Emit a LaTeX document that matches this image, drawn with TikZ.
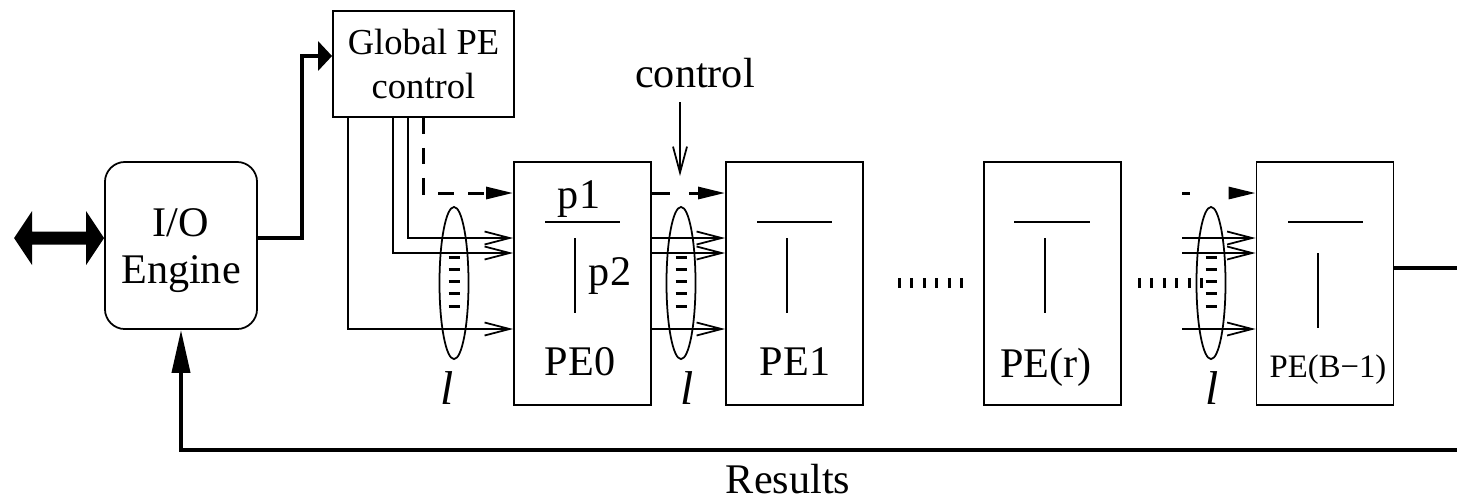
\documentclass[tikz,border=0pt]{standalone}
\usepackage{fontspec}
\setmainfont{Liberation Serif}
\usetikzlibrary{arrows.meta,shapes.geometric}
\begin{document}
\begin{tikzpicture}[x=0.01cm,y=-0.01cm,
  thinln/.style={line width=0.5pt},
  thickln/.style={line width=1.1pt},
  box/.style={draw, line width=0.5pt, inner sep=0pt, minimum width=1.37cm, minimum height=2.43cm},
  barb/.style={thinln, -{Straight Barb[length=0.25cm,width=0.13cm]}},
  darr/.style={line width=0.85pt, -{Triangle[length=0.27cm,width=0.12cm]}},
  txt/.style={font=\fontsize{12}{13.4}\selectfont, inner sep=0pt},
  ell/.style={draw, ellipse, line width=0.5pt, minimum width=0.29cm, minimum height=1.52cm, inner sep=0pt},
  ltxt/.style={font=\fontsize{13.5}{14}\selectfont\itshape, inner sep=0pt},
  tick/.style={line width=0.1cm, dash pattern=on 0.03cm off 0.094cm},
  emark/.style={line width=0.03cm},
]
\useasboundingbox (0,0) rectangle (1457,499);

% helper coordinates
\coordinate (h56) at (0,56);
\coordinate (h193) at (0,193);
\coordinate (h238) at (0,238);
\coordinate (h253) at (0,253);
\coordinate (h268) at (0,268);
\coordinate (h329) at (0,329);
\coordinate (h450) at (0,450);
\coordinate (v302) at (302,0);
\coordinate (v348) at (348,0);
\coordinate (v393) at (393,0);
\coordinate (v408) at (408,0);
\coordinate (vs) at (1182,0);
\coordinate (re) at (1462,0);
\coordinate (ctop) at (680,102);
\coordinate (cbot) at (680,176);

% main blocks
\node[draw, rounded corners=0.2cm, line width=0.5pt, minimum width=1.52cm, minimum height=1.67cm] (io) at (181,245.5) {};
\node[txt, align=center] (iotxt) at (181,251) {I/O\\Engine};
\node[draw, line width=0.5pt, minimum width=1.81cm, minimum height=1.06cm, inner sep=0pt, align=center, font=\fontsize{10.4}{12.3}\selectfont] (glob) at (423.5,64) {Global PE\\control};
\node[box] (pe0) at (582.5,283.5) {};
\node[box] (pe1) at (794.5,283.5) {};
\node[box] (per) at (1052.5,283.5) {};
\node[box] (peb) at (1325,283.5) {};

% labels inside PEs
\node[txt, anchor=base] (lpe0) at (580,375) {PE0};
\node[txt, anchor=base] (lpe1) at (795,375) {PE1};
\node[txt, anchor=base] (lper) at (1046,377) {PE(r)};
\node[anchor=base, inner sep=0pt, font=\fontsize{9.3}{11}\selectfont] (lpeb) at (1328,377) {PE(B−1)};
\node[txt, anchor=base] (p1) at (579,208) {p1};
\node[txt, anchor=base] (p2) at (610,285) {p2};

% inner partition lines
\draw[thinln] (545,222) -- (620,222) (575,238) -- (575,313);
\draw[thinln] (757,222) -- (832,222) (787,238) -- (787,313);
\draw[thinln] (1014,222) -- (1090,222) (1045,238) -- (1045,313);
\draw[thinln] (1288,222) -- (1363,222) (1318,253) -- (1318,328);

% bus ellipses
\node[ell] (e1) at (454,283) {};
\node[ell] (e2) at (681,283) {};
\node[ell] (e3) at (1211,283) {};
\foreach \e in {e1,e2,e3}{
  \begin{scope}[shift={(\e)}]
    \foreach \yy in {-26,-13.75,-1.5,10.75,23}
      \draw[emark] (-5.5,\yy) -- (5.5,\yy);
  \end{scope}
}
\node[ltxt] (l1) at (447,388) {l};
\node[ltxt] (l2) at (687,388) {l};
\node[ltxt] (l3) at (1212,388) {l};

% dotted gaps
\draw[tick] (898,283) -- (963,283);
\draw[tick] (1138,283) -- (1203,283);

% external double arrow
\fill[shift={(io.west |- h238)}] (-90,0) -- (-72,-27) -- (-72,-6.5) -- (-18,-6.5) -- (-18,-27) -- (0,0)
  -- (-18,27) -- (-18,6.5) -- (-72,6.5) -- (-72,27) -- cycle;

% I/O -> Global
\draw[thickln, -{Triangle[length=0.14cm,width=0.29cm]}] (io.east |- h238) -| (v302 |- h56) -- (glob.west |- h56);

% Global -> PE0
\draw[barb] (glob.south -| v348) |- (pe0.west |- h329);
\draw[barb] (glob.south -| v393) |- (pe0.west |- h253);
\draw[barb] (glob.south -| v408) |- (pe0.west |- h238);
\draw[darr, dash pattern=on 0.16cm off 0.14cm] (glob.south) |- (pe0.west |- h193);

% PE0 -> PE1
\draw[darr, dash pattern=on 0.18cm off 0.19cm] (pe0.east |- h193) -- (pe1.west |- h193);
\draw[barb] (pe0.east |- h238) -- (pe1.west |- h238);
\draw[barb] (pe0.east |- h253) -- (pe1.west |- h253);
\draw[barb] (pe0.east |- h329) -- (pe1.west |- h329);

% into PE(B-1)
\draw[darr, dash pattern=on 0.08cm off 0.4cm] (vs |- h193) -- (peb.west |- h193);
\draw[barb] (vs |- h238) -- (peb.west |- h238);
\draw[barb] (vs |- h253) -- (peb.west |- h253);
\draw[barb] (vs |- h329) -- (peb.west |- h329);

% control label
\node[txt, anchor=base] (ctrl) at (695,87) {control};
\draw[thinln, -{Straight Barb[length=0.26cm,width=0.14cm]}] (ctop) -- (cbot);

% output and results
\draw[thickln] (peb.east |- h268) -- (re |- h268);
\draw[thickln, -{Triangle[length=0.43cm,width=0.18cm]}] (re |- h450) -| (io.south);
\node[txt, anchor=base] (res) at (788,493) {Results};
\end{tikzpicture}
\end{document}
